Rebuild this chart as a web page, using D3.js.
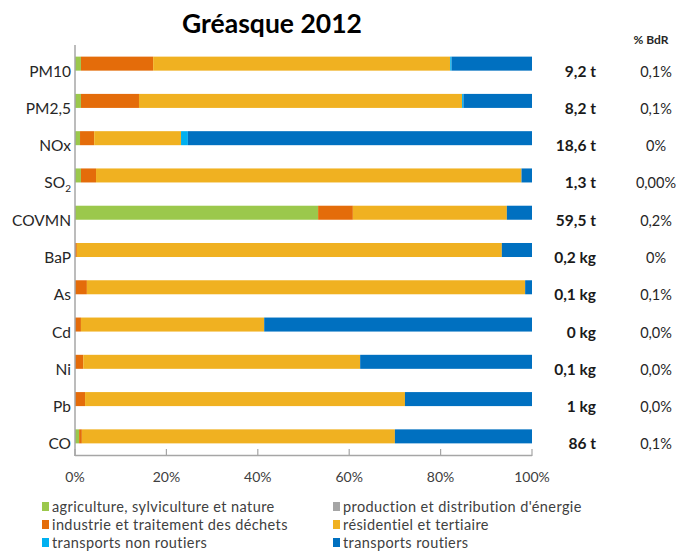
<!DOCTYPE html>
<html>
<head>
<meta charset="utf-8">
<script src="https://cdn.jsdelivr.net/npm/d3@7"></script>
<style>
  body { margin: 0; background: #fff; }
  svg { font-family: Lato, "Open Sans", sans-serif; }
</style>
</head>
<body>
<svg id="chart" width="681" height="551"></svg>
<script>
// categories (top to bottom)
var polluants = ["PM10", "PM2,5", "NOx", "SO2", "COVMN", "BaP", "As", "Cd", "Ni", "Pb", "CO"];
var totaux = ["9,2 t", "8,2 t", "18,6 t", "1,3 t", "59,5 t", "0,2 kg", "0,1 kg", "0 kg", "0,1 kg", "1 kg", "86 t"];
var partBdR = ["0,1%", "0,1%", "0%", "0,00%", "0,2%", "0%", "0,1%", "0,0%", "0,0%", "0,0%", "0,1%"];

var secteurs = [
    "agriculture, sylviculture et nature",
    "production et distribution d'énergie",
    "industrie et traitement des déchets",
    "résidentiel et tertiaire",
    "transports non routiers",
    "transports routiers"
];

// share of each sector (%), same order as polluants
var agriculture = [1.3, 1.3, 1.1, 1.3, 53.2, 0, 0, 0, 0, 0, 0.9];
var energie     = [0, 0, 0, 0, 0, 0, 0, 0, 0, 0, 0];
var industrie   = [15.8, 12.7, 3.1, 3.3, 7.6, 0.4, 2.6, 1.3, 1.8, 2.2, 0.6];
var residentiel = [65.0, 70.7, 19.0, 93.1, 33.7, 93.0, 95.9, 40.1, 60.6, 70.0, 68.5];
var nonRoutier  = [0.3, 0.3, 1.5, 0, 0, 0, 0, 0, 0, 0, 0];
var routier     = [17.6, 15.0, 75.3, 2.3, 5.5, 6.6, 1.5, 58.6, 37.6, 27.8, 30.0];

var ticks = [0, 20, 40, 60, 80, 100];

var colors = {
    "agriculture, sylviculture et nature": "#9bc84c",
    "production et distribution d'énergie": "#a5a5a5",
    "industrie et traitement des déchets": "#e46c0a",
    "résidentiel et tertiaire": "#f0b121",
    "transports non routiers": "#00b0f0",
    "transports routiers": "#0070c0"
};

var series = [agriculture, energie, industrie, residentiel, nonRoutier, routier];
var rows = polluants.map(function(p, i) {
    var r = { name: p };
    secteurs.forEach(function(s, k) { r[s] = series[k][i]; });
    return r;
});

const svg = d3.select("#chart");

let x = d3.scaleLinear().domain([0, 100]).range([75, 532]);
let y = d3.scaleBand().domain(polluants).range([45, 455]).paddingInner(0.624).paddingOuter(0.312);

let stacked = d3.stack().keys(secteurs)(rows);

// bars
svg.append("g")
    .selectAll("g")
    .data(stacked)
    .join("g")
    .attr("fill", d => colors[d.key])
    .selectAll("rect")
    .data(d => d)
    .join("rect")
    .attr("x", d => x(d[0]))
    .attr("y", d => y(d.data.name))
    .attr("width", d => Math.max(0, x(d[1]) - x(d[0])))
    .attr("height", y.bandwidth());

// axes
let axisColor = "#a6a6a6";
svg.append("line")
    .attr("x1", x(0)).attr("x2", x(0))
    .attr("y1", 45).attr("y2", 456)
    .attr("stroke", axisColor).attr("stroke-width", 1.5);
svg.append("line")
    .attr("x1", x(0)).attr("x2", x(100))
    .attr("y1", 455.5).attr("y2", 455.5)
    .attr("stroke", axisColor).attr("stroke-width", 1.5);
svg.append("g")
    .selectAll("line")
    .data(ticks)
    .join("line")
    .attr("x1", d => x(d)).attr("x2", d => x(d))
    .attr("y1", 449).attr("y2", 456)
    .attr("stroke", axisColor).attr("stroke-width", 1.2);
svg.append("g")
    .selectAll("text")
    .data(ticks)
    .join("text")
    .attr("x", d => x(d))
    .attr("y", 482)
    .attr("text-anchor", "middle")
    .attr("font-size", 14)
    .attr("fill", "#404040")
    .text(d => d + "%");

// category labels
let labels = svg.append("g")
    .selectAll("text")
    .data(polluants)
    .join("text")
    .attr("x", 71)
    .attr("y", d => y(d) + y.bandwidth() / 2 + 13)
    .attr("text-anchor", "end")
    .attr("font-size", 15.5)
    .attr("fill", "#262626");
labels.each(function(d) {
    let t = d3.select(this);
    if (d == "SO2") {
        t.append("tspan").text("SO");
        t.append("tspan").text("2").attr("font-size", 10).attr("dy", 4);
    } else {
        t.text(d);
    }
});

// totals + share of Bouches-du-Rhône
svg.append("g")
    .selectAll("text")
    .data(polluants)
    .join("text")
    .attr("x", 596)
    .attr("y", (d, i) => y(d) + y.bandwidth() / 2 + 13)
    .attr("text-anchor", "end")
    .attr("font-size", 15.5)
    .attr("font-weight", "bold")
    .attr("fill", "#1a1a1a")
    .text((d, i) => totaux[i]);
svg.append("g")
    .selectAll("text")
    .data(polluants)
    .join("text")
    .attr("x", 656)
    .attr("y", (d, i) => y(d) + y.bandwidth() / 2 + 13)
    .attr("text-anchor", "middle")
    .attr("font-size", 14.5)
    .attr("fill", "#262626")
    .text((d, i) => partBdR[i]);

svg.append("text")
    .attr("x", 651).attr("y", 44)
    .attr("text-anchor", "middle")
    .attr("font-size", 12)
    .attr("font-weight", "bold")
    .attr("fill", "#262626")
    .text("%  BdR");

// title
svg.append("text")
    .attr("x", 272).attr("y", 33)
    .attr("text-anchor", "middle")
    .attr("font-size", 26.5)
    .attr("font-weight", "bold")
    .attr("fill", "#000")
    .text("Gréasque 2012");

// legend
let legend = svg.append("g")
    .selectAll("g")
    .data(secteurs)
    .join("g")
    .attr("transform", (d, i) => "translate(" + (i % 2 == 0 ? 42 : 333) + "," + (507 + Math.floor(i / 2) * 18) + ")");
legend.append("rect")
    .attr("x", 0).attr("y", -5)
    .attr("width", 7).attr("height", 9)
    .attr("fill", d => colors[d]);
legend.append("text")
    .attr("x", 10).attr("y", 4.5)
    .attr("font-size", 14.5)
    .attr("letter-spacing", 0.4)
    .attr("fill", "#404040")
    .text(d => d);
</script>
</body>
</html>
